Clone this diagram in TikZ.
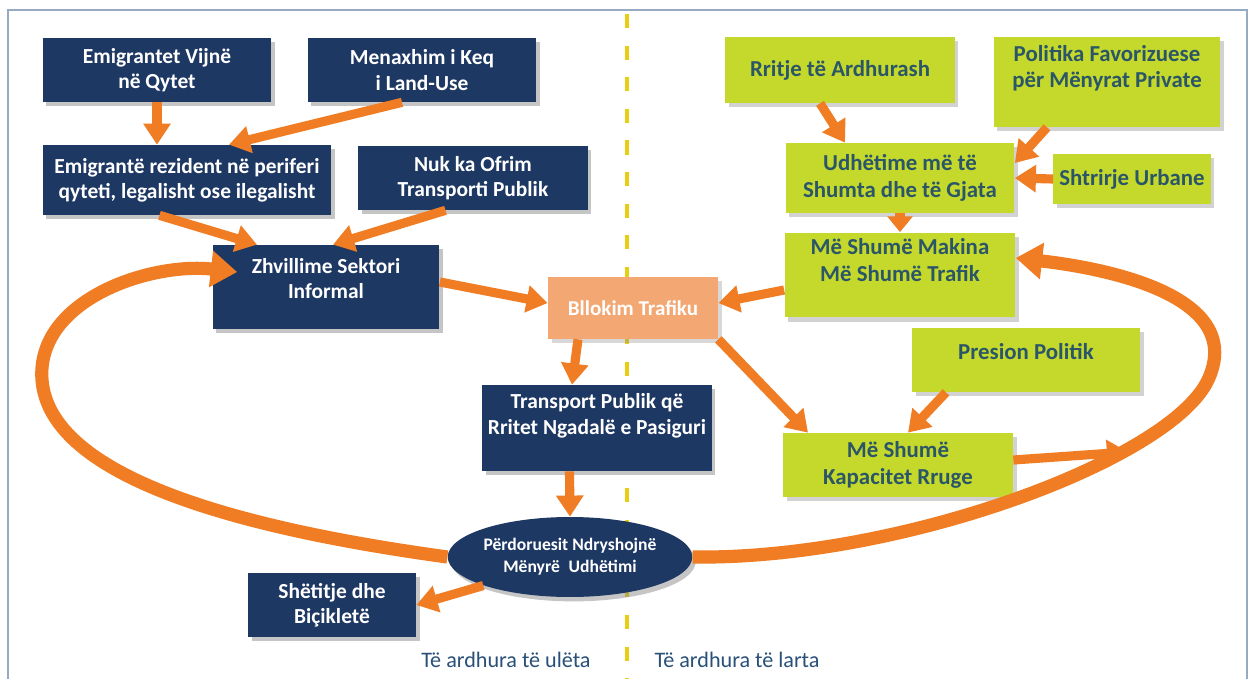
\documentclass[tikz,border=0pt]{standalone}
\usepackage{fontspec}
\setmainfont{Carlito}
\usepackage{tikz}
\usetikzlibrary{
  shapes.geometric, arrows.meta, calc, shadows
}
\definecolor{NavyBox}{RGB}{30,56,100}
\definecolor{LimeBox}{RGB}{197,217,44}
\definecolor{LimeText}{RGB}{42,86,104}
\definecolor{JamBox}{RGB}{243,167,115}
\definecolor{FlowOrange}{RGB}{240,125,35}
\definecolor{DividerYellow}{RGB}{232,205,20}
\definecolor{FrameGray}{RGB}{150,170,195}
\definecolor{FootText}{RGB}{40,80,120}
\tikzstyle{navybox} = [
  rectangle, fill=NavyBox, text=white, align=center,
  font=\fontsize{12.2}{14.4}\selectfont\bfseries,
  drop shadow={shadow xshift=2pt, shadow yshift=-2.5pt, opacity=0.45}
]
\tikzstyle{limebox} = [
  rectangle, fill=LimeBox, text=LimeText, align=center,
  font=\fontsize{13}{15}\selectfont\bfseries,
  drop shadow={shadow xshift=2pt, shadow yshift=-2.5pt, opacity=0.35}
]
\tikzstyle{jambox} = [
  rectangle, fill=JamBox, text=white, align=center,
  font=\fontsize{12}{14}\selectfont\bfseries,
  drop shadow={shadow xshift=2pt, shadow yshift=-2.5pt, opacity=0.3}
]
\tikzstyle{modebubble} = [
  ellipse, fill=NavyBox, text=white, align=center, inner sep=0pt,
  font=\fontsize{10}{12.5}\selectfont\bfseries,
  drop shadow={shadow xshift=2pt, shadow yshift=-2.5pt, opacity=0.45}
]
\tikzstyle{foot} = [font=\fontsize{12.6}{14}\selectfont, text=FootText]
\tikzstyle{flow} = [-{Triangle[length=12pt, width=15pt]}, line width=5.2pt, draw=FlowOrange]
\tikzstyle{bigflow} = [-{Triangle[length=15pt, width=20pt]}, line width=7.5pt, draw=FlowOrange]

\begin{document}
\begin{tikzpicture}[x=0.02cm, y=-0.02cm]

  % Page and frame
  \fill[white] (0,0) rectangle (1255,679);
  \useasboundingbox (0,0) rectangle (1255,679);
  \draw[FrameGray, line width=0.8pt] (8,679) |- (1247,10) -- (1247,679);

  % Income divider
  \draw[DividerYellow, line width=2.5pt, dash pattern=on 8pt off 10pt] (627,14) -- (627,679);

  % Low income side
  \node[navybox, minimum width=4.58cm, minimum height=1.28cm]
    (emig) at (157,70) {Emigrantet Vijnë\\në Qytet};
  \node[navybox, minimum width=4.58cm, minimum height=1.28cm]
    (landuse) at (422,70) {Menaxhim i Keq\\i Land-Use};
  \node[navybox, minimum width=5.78cm, minimum height=1.4cm]
    (resid) at (187,180) {Emigrantë rezident në periferi\\qyteti, legalisht ose ilegalisht};
  \node[navybox, minimum width=4.6cm, minimum height=1.28cm]
    (nopt) at (473,178) {Nuk ka Ofrim\\Transporti Publik};
  \node[navybox, minimum width=4.54cm, minimum height=1.68cm, text depth=10pt]
    (informal) at (326,287) {Zhvillime Sektori\\Informal};
  \node[navybox, minimum width=4.54cm, minimum height=1.72cm, text depth=16pt]
    (ptslow) at (597,428) {Transport Publik që\\Rritet Ngadalë e Pasiguri};
  \node[modebubble, minimum width=4.5cm, minimum height=1.6cm]
    (mode) at (570,557) {Përdoruesit Ndryshojnë\\Mënyrë\enspace Udhëtimi};
  \node[navybox, minimum width=3.36cm, minimum height=1.28cm]
    (walk) at (332,605) {Shëtitje dhe\\Biçikletë};

  % Traffic jam
  \node[jambox, minimum width=3.4cm, minimum height=1.24cm]
    (jam) at (633,308) {Bllokim Trafiku};

  % High income side
  \node[limebox, minimum width=4.6cm, minimum height=1.32cm]
    (income) at (840,70) {Rritje të Ardhurash};
  \node[limebox, minimum width=4.54cm, minimum height=1.8cm, text depth=18pt]
    (favor) at (1107,82) {Politika Favorizuese\\për Mënyrat Private};
  \node[limebox, minimum width=4.58cm, minimum height=1.4cm]
    (moretrips) at (900,178) {Udhëtime më të\\Shumta dhe të Gjata};
  \node[limebox, minimum width=3.12cm, minimum height=1cm]
    (sprawl) at (1132,179) {Shtrirje Urbane};
  \node[limebox, minimum width=4.62cm, minimum height=1.7cm, text depth=17pt]
    (congest) at (900,275) {Më Shumë Makina\\Më Shumë Trafik};
  \node[limebox, minimum width=4.56cm, minimum height=1.28cm, text depth=10pt]
    (politics) at (1026,360) {Presion Politik};
  \node[limebox, minimum width=4.6cm, minimum height=1.28cm]
    (capacity) at (898,465) {Më Shumë\\Kapacitet Rruge};

  % Footer labels
  \node[foot] (lowinc) at (506,660) {Të ardhura të ulëta};
  \node[foot] (highinc) at (737,660) {Të ardhura të larta};

  % Connections
  \draw[flow] (emig.south) -- (emig.south |- resid.north);
  \draw[flow] ([xshift=-0.4cm]landuse.south) -- ([xshift=0.84cm]resid.north);
  \draw[flow] ([xshift=-0.55cm]resid.south) -- ([xshift=-1.38cm]informal.north);
  \draw[flow] ([xshift=-0.55cm]nopt.south) -- ([xshift=0.14cm]informal.north);
  \draw[flow] ([yshift=0.1cm]informal.east) -- ([yshift=0.1cm]jam.west);
  \draw[flow] ([yshift=-0.3cm]congest.west) -- ([yshift=0.1cm]jam.east);
  \draw[flow] ([xshift=-1.1cm]jam.south) -- ([xshift=-0.5cm]ptslow.north);
  \draw[flow] (jam.south east) -- ([xshift=-1.8cm]capacity.north);
  \draw[flow] ([xshift=-0.55cm]ptslow.south) -- (mode.north);
  \draw[flow] (mode.south west) -- (walk.east);

  \draw[flow] ([xshift=-0.4cm]income.south) -- ([xshift=-1.1cm]moretrips.north);
  \draw[flow] ([xshift=-1.2cm]favor.south) -- ([yshift=0.3cm]moretrips.east);
  \draw[flow] (sprawl.west) -- (moretrips.east);
  \draw[flow, -{Triangle[length=9pt, width=14pt]}] (moretrips.south) -- (congest.north);
  \draw[flow] ([xshift=-1.6cm]politics.south) -- ([xshift=0.2cm]capacity.north);

  % Feedback loops
  \draw[bigflow] (mode.west) .. controls (250,530) and (50,480) .. (42,380)
    .. controls (36,300) and (150,262) .. ([xshift=0.5cm, yshift=0.3cm]informal.west);
  \draw[bigflow] (mode.east) .. controls (900,560) and (1170,460) .. (1208,380)
    .. controls (1245,300) and (1120,270) .. ([yshift=0.34cm]congest.east);

  \coordinate (hit) at (1128,452);
  \draw[flow] ([yshift=0.1cm]capacity.east) -- (hit);

\end{tikzpicture}
\end{document}
